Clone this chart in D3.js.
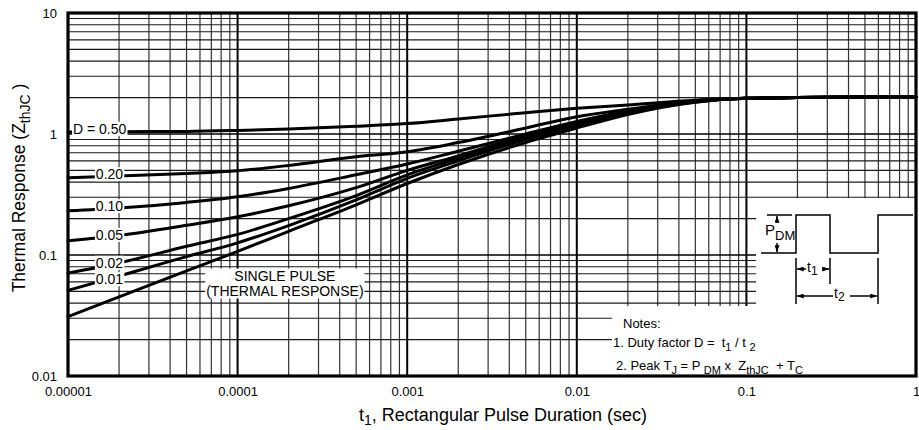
<!DOCTYPE html>
<html><head><meta charset="utf-8">
<script src="https://cdn.jsdelivr.net/npm/d3@7"></script>
<style>
html,body{margin:0;padding:0;background:#fff;}
svg{display:block;font-family:"Liberation Sans",Arial,Helvetica,sans-serif;}
text{white-space:pre;}
</style></head><body>
<svg id="chart" width="919" height="430"></svg>
<script>
// ---------------- DATA ----------------
const tValues = [1e-5, 2e-5, 5e-5, 1e-4, 2e-4, 5e-4, 1e-3, 2e-3, 5e-3, 1e-2, 2e-2, 5e-2, 0.1, 0.2, 0.5, 1];
const zD050   = [1.04, 1.045, 1.05, 1.07, 1.10, 1.16, 1.22, 1.33, 1.50, 1.63, 1.74, 1.90, 1.97, 2.00, 2.02, 2.02];
const zD020   = [0.435, 0.45, 0.472, 0.497, 0.55, 0.65, 0.714, 0.85, 1.12, 1.39, 1.60, 1.88, 1.97, 2.00, 2.02, 2.02];
const zD010   = [0.232, 0.245, 0.272, 0.303, 0.355, 0.46, 0.565, 0.72, 1.00, 1.27, 1.55, 1.87, 1.97, 2.00, 2.02, 2.02];
const zD005   = [0.131, 0.145, 0.176, 0.207, 0.255, 0.36, 0.50, 0.66, 0.97, 1.24, 1.53, 1.86, 1.97, 2.00, 2.02, 2.02];
const zD002   = [0.071, 0.086, 0.118, 0.148, 0.20, 0.31, 0.46, 0.63, 0.93, 1.20, 1.50, 1.85, 1.97, 2.00, 2.02, 2.02];
const zD001   = [0.051, 0.067, 0.097, 0.126, 0.175, 0.285, 0.43, 0.60, 0.90, 1.16, 1.48, 1.84, 1.97, 2.00, 2.02, 2.02];
const zSingle = [0.031, 0.045, 0.074, 0.107, 0.157, 0.26, 0.39, 0.56, 0.85, 1.12, 1.45, 1.83, 1.97, 2.00, 2.02, 2.02];
const seriesLabels = ["D = 0.50", "0.20", "0.10", "0.05", "0.02", "0.01"];
const singleLabel = ["SINGLE PULSE", "(THERMAL RESPONSE)"];
const xTickValues = [1e-5, 1e-4, 1e-3, 1e-2, 1e-1, 1];
const xTickLabels = ["0.00001", "0.0001", "0.001", "0.01", "0.1", "1"];
const yTickValues = [0.01, 0.1, 1, 10];
const yTickLabels = ["0.01", "0.1", "1", "10"];

// ---------------- SETUP ----------------
const W = 919, H = 430;
const L = 68, T = 13, R = 916, B = 376;
const x = d3.scaleLog().domain([1e-5, 1]).range([L, R]);
const y = d3.scaleLog().domain([0.01, 10]).range([B, T]);
const svg = d3.select("#chart");
svg.append("rect").attr("width", W).attr("height", H).attr("fill", "#fff");

const defs = svg.append("defs");
defs.append("marker").attr("id", "arr").attr("viewBox", "0 0 8 6")
  .attr("refX", 8).attr("refY", 3).attr("markerWidth", 7).attr("markerHeight", 5)
  .attr("markerUnits", "userSpaceOnUse").attr("orient", "auto-start-reverse")
  .append("path").attr("d", "M0,0L8,3L0,6Z").attr("fill", "#000");

// ---------------- GRID ----------------
const xGrid = [], yGrid = [];
for (let e = -5; e < 0; e++) for (let k = 1; k < 10; k++) xGrid.push({ v: k * Math.pow(10, e), major: k === 1 });
for (let e = -2; e < 1; e++) for (let k = 1; k < 10; k++) yGrid.push({ v: k * Math.pow(10, e), major: k === 1 });
const grid = svg.append("g");
grid.selectAll("line.v").data(xGrid).join("line")
  .attr("x1", d => x(d.v)).attr("x2", d => x(d.v)).attr("y1", T).attr("y2", B)
  .attr("stroke", d => d.major ? "#000" : "#333").attr("stroke-width", d => d.major ? 2 : 1.2);
grid.selectAll("line.h").data(yGrid).join("line")
  .attr("y1", d => y(d.v)).attr("y2", d => y(d.v)).attr("x1", L).attr("x2", R)
  .attr("stroke", d => d.major ? "#000" : "#1a1a1a").attr("stroke-width", d => d.major ? 1.6 : 1.1);

// white panels for inset and notes
svg.append("rect").attr("x", 756).attr("y", 198).attr("width", R - 756).attr("height", B - 198).attr("fill", "#fff");
svg.append("rect").attr("x", 612).attr("y", 306).attr("width", R - 612).attr("height", B - 306).attr("fill", "#fff");

// ---------------- CURVES ----------------
const allSeries = [zD050, zD020, zD010, zD005, zD002, zD001, zSingle];
const line = d3.line().x(d => x(d[0])).y(d => y(d[1])).curve(d3.curveMonotoneX);
svg.append("g").selectAll("path").data(allSeries).join("path")
  .attr("d", s => line(tValues.map((t, i) => [t, s[i]])))
  .attr("fill", "none").attr("stroke", "#000").attr("stroke-width", 3).attr("stroke-linecap", "round");

function interp(series, t) {
  const lt = Math.log10(t);
  for (let i = 0; i < tValues.length - 1; i++) {
    const a = Math.log10(tValues[i]), b = Math.log10(tValues[i + 1]);
    if (lt >= a && lt <= b) {
      const f = (lt - a) / (b - a);
      return Math.pow(10, Math.log10(series[i]) + f * (Math.log10(series[i + 1]) - Math.log10(series[i])));
    }
  }
  return series[0];
}

// curve labels
const labelStartT = [1.07e-5, 1.46e-5, 1.46e-5, 1.46e-5, 1.46e-5, 1.46e-5];
const labelNudge = [-3, -2, -2, -1, -1, 2];
const lg = svg.append("g");
seriesLabels.forEach((lab, i) => {
  const g = lg.append("g");
  const cy = y(interp(allSeries[i], labelStartT[i] * 1.3)) + labelNudge[i];
  const tx = g.append("text").attr("x", x(labelStartT[i])).attr("y", cy).attr("dy", "0.36em")
    .attr("font-size", 14).text(lab);
  const bb = tx.node().getBBox();
  g.insert("rect", "text").attr("x", bb.x - 1).attr("y", bb.y + 1).attr("width", bb.width + 2).attr("height", bb.height - 2).attr("fill", "#fff");
});

// single pulse label
{
  const g = svg.append("g");
  const cx = x(1.9e-4), cy = y(0.0587);
  const tx = g.append("text").attr("text-anchor", "middle").attr("font-size", 14);
  tx.append("tspan").attr("x", cx).attr("y", cy - 7.5).attr("dy", "0.36em").text(singleLabel[0]);
  tx.append("tspan").attr("x", cx).attr("y", cy + 7.5).attr("dy", "0.36em").text(singleLabel[1]);
  const bb = tx.node().getBBox();
  g.insert("rect", "text").attr("x", bb.x - 1).attr("y", bb.y + 1).attr("width", bb.width + 2).attr("height", bb.height - 1).attr("fill", "#fff");
}

// border
svg.append("rect").attr("x", L).attr("y", T).attr("width", R - L).attr("height", B - T)
  .attr("fill", "none").attr("stroke", "#000").attr("stroke-width", 3.2);

// ---------------- AXES ----------------
const xAxis = svg.append("g").attr("transform", `translate(0,${B})`)
  .call(d3.axisBottom(x).tickValues(xTickValues).tickFormat((d, i) => xTickLabels[i]).tickSize(0).tickPadding(11));
const yAxis = svg.append("g").attr("transform", `translate(${L},0)`)
  .call(d3.axisLeft(y).tickValues(yTickValues).tickFormat((d, i) => yTickLabels[i]).tickSize(0).tickPadding(11));
[xAxis, yAxis].forEach(a => {
  a.select(".domain").remove();
  a.selectAll("text").attr("font-size", 13).attr("fill", "#000").attr("font-family", '"Liberation Sans",Arial,sans-serif');
});

function rich(sel, parts, base, sub, shift) {
  let shifted = false;
  parts.forEach(([txt, isSub]) => {
    const ts = sel.append("tspan").text(txt).attr("font-size", isSub ? sub : base);
    if (isSub && !shifted) ts.attr("dy", shift);
    if (!isSub && shifted) ts.attr("dy", -shift);
    shifted = isSub;
  });
}

// axis titles
rich(svg.append("text").attr("x", 503).attr("y", 421).attr("text-anchor", "middle"),
  [["t", 0], ["1", 1], [", Rectangular Pulse Duration (sec)", 0]], 18, 14, 4);
rich(svg.append("text").attr("transform", "translate(25,188) rotate(-90)").attr("text-anchor", "middle"),
  [["Thermal Response (Z", 0], ["thJC", 1], [" )", 0]], 17.5, 14, 5);

// ---------------- NOTES ----------------
svg.append("text").attr("x", 623).attr("y", 328).attr("font-size", 13).text("Notes:");
rich(svg.append("text").attr("x", 613).attr("y", 347),
  [["1. Duty factor D =  t", 0], ["1", 1], [" / t ", 0], ["2", 1]], 13, 11, 4);
rich(svg.append("text").attr("x", 616).attr("y", 370),
  [["2. Peak T", 0], ["J", 1], [" = P ", 0], ["DM", 1], [" x  Z", 0], ["thJC", 1], ["  + T", 0], ["C", 1]], 13, 11, 4);

// ---------------- PULSE INSET ----------------
const ins = svg.append("g").attr("stroke", "#000").attr("fill", "none").attr("stroke-width", 1.5);
const yHi = 215, yLo = 253;
ins.append("path").attr("d", `M761,${yLo}H796V${yHi}H830V${yLo}H878V${yHi}H913`);
ins.append("path").attr("d", `M767,${yHi}H792`);
ins.append("line").attr("x1", 777).attr("x2", 777).attr("y1", yHi + 1).attr("y2", yLo - 1).attr("marker-start", "url(#arr)").attr("marker-end", "url(#arr)");
ins.append("line").attr("x1", 796).attr("x2", 796).attr("y1", 258).attr("y2", 304);
ins.append("line").attr("x1", 830).attr("x2", 830).attr("y1", 258).attr("y2", 284);
ins.append("line").attr("x1", 878).attr("x2", 878).attr("y1", 258).attr("y2", 304);
ins.append("line").attr("x1", 797).attr("x2", 829).attr("y1", 269).attr("y2", 269).attr("marker-start", "url(#arr)").attr("marker-end", "url(#arr)");
ins.append("line").attr("x1", 797).attr("x2", 877).attr("y1", 296).attr("y2", 296).attr("marker-start", "url(#arr)").attr("marker-end", "url(#arr)");

svg.append("rect").attr("x", 764).attr("y", 223).attr("width", 30).attr("height", 20).attr("fill", "#fff");
rich(svg.append("text").attr("x", 765).attr("y", 235), [["P", 0], ["DM", 1]], 15, 13, 5);
svg.append("rect").attr("x", 806).attr("y", 261).attr("width", 16).attr("height", 15).attr("fill", "#fff");
rich(svg.append("text").attr("x", 807).attr("y", 272), [["t", 0], ["1", 1]], 14, 12, 3);
svg.append("rect").attr("x", 833).attr("y", 287).attr("width", 17).attr("height", 15).attr("fill", "#fff");
rich(svg.append("text").attr("x", 834).attr("y", 298), [["t", 0], ["2", 1]], 14, 12, 3);
</script>
</body></html>
